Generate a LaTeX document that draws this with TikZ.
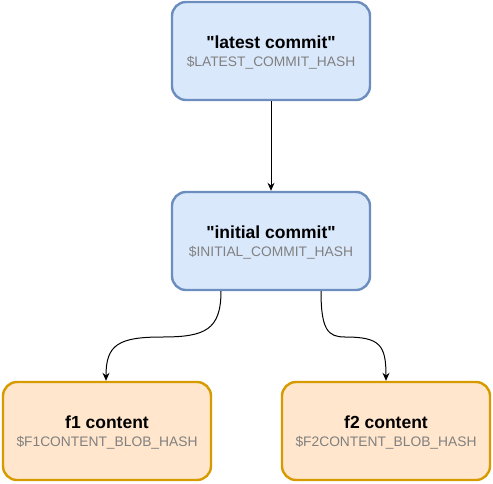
\documentclass[tikz,border=0pt]{standalone}
\usepackage{fontspec}
\setmainfont{Liberation Sans}[Ligatures=TeXOff]
\usetikzlibrary{arrows.meta}
\definecolor{bluefill}{HTML}{DAE8FC}
\definecolor{bluedraw}{HTML}{6C8EBF}
\definecolor{orgfill}{HTML}{FFE6CC}
\definecolor{orgdraw}{HTML}{D79B00}
\definecolor{subgray}{HTML}{808080}
\tikzset{
  bluebox/.style={draw=bluedraw, fill=bluefill, line width=2.4pt, rounded corners=14pt, minimum width=198pt, minimum height=98pt, inner sep=0pt},
  orgbox/.style={draw=orgdraw, fill=orgfill, line width=2.4pt, rounded corners=14pt, minimum width=208pt, minimum height=98pt, inner sep=0pt},
  ttl/.style={font=\fontsize{17.5pt}{20pt}\selectfont\bfseries, inner sep=0pt, anchor=center},
  sub/.style={font=\fontsize{13.8pt}{16pt}\selectfont, text=subgray, inner sep=0pt, anchor=center},
  conn/.style={draw=black, line width=1pt, -{Stealth[length=8pt,width=7pt]}}
}
\begin{document}
\begin{tikzpicture}[x=1pt,y=-1pt]
\useasboundingbox (0,0) rectangle (493,483);
\node[bluebox] (latest) at (271,51) {};
\node[ttl] (latestT) at (271,42) {"latest commit"};
\node[sub] (latestS) at (271,63) {\$LATEST\_COMMIT\_HASH};
\node[bluebox] (initial) at (271,241) {};
\node[ttl] (initialT) at (271,232) {"initial commit"};
\node[sub] (initialS) at (271,253) {\$INITIAL\_COMMIT\_HASH};
\node[orgbox] (f1) at (107,431) {};
\node[ttl] (f1T) at (107,422) {f1 content};
\node[sub] (f1S) at (107,443) {\$F1CONTENT\_BLOB\_HASH};
\node[orgbox] (f2) at (386,431) {};
\node[ttl] (f2T) at (386,422) {f2 content};
\node[sub] (f2S) at (386,443) {\$F2CONTENT\_BLOB\_HASH};
\coordinate (a1) at (221,291);
\coordinate (a2) at (321,291);
\draw[conn] (latest.south) -- (initial.north);
\draw[conn] (a1) .. controls (221,330) and (205,337) .. (162,337) .. controls (118,337) and (106,345) .. (f1.north -| 106,0);
\draw[conn] (a2) .. controls (321,330) and (328,337) .. (345,337) .. controls (380,337) and (386,345) .. (f2.north -| 386,0);
\end{tikzpicture}
\end{document}
